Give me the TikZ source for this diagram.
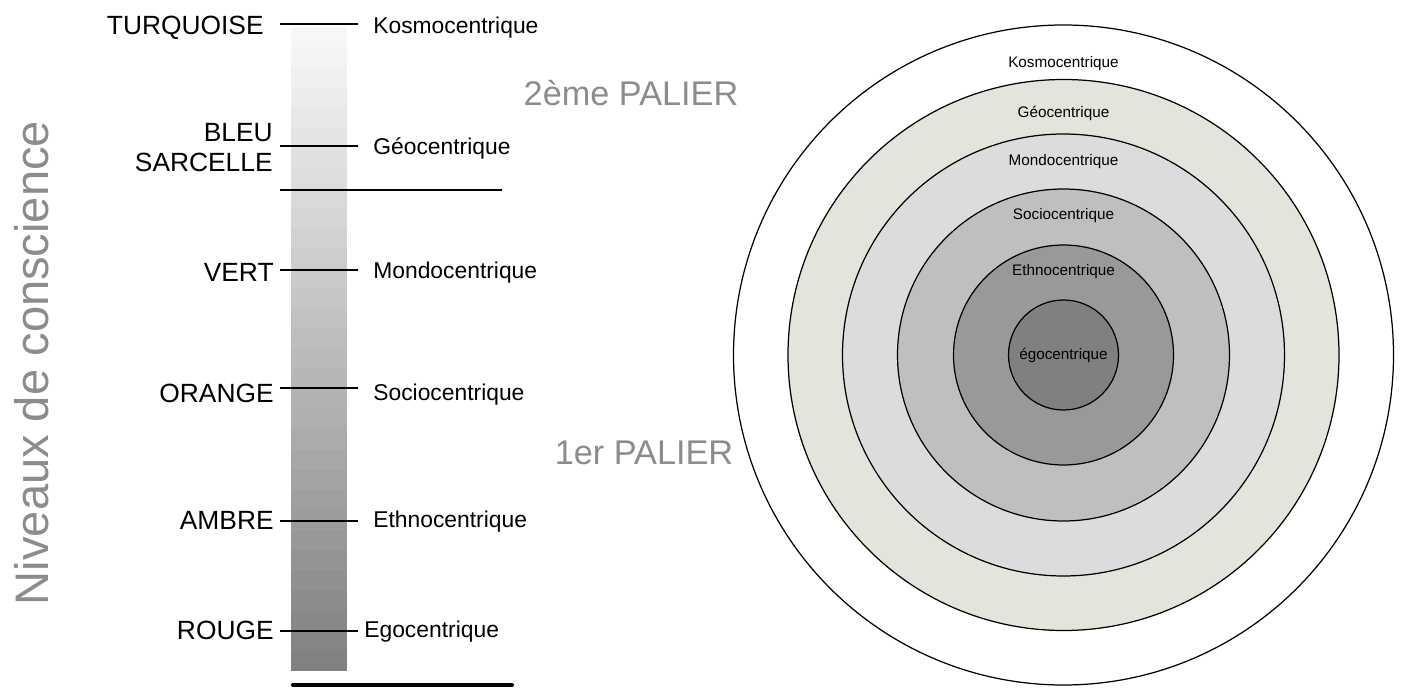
\documentclass[tikz,border=0pt]{standalone}
\usepackage{fontspec}
\setmainfont{Liberation Sans}
\definecolor{gristexte}{HTML}{8C8C8C}
\definecolor{geo}{HTML}{E4E4DC}
\definecolor{mondo}{HTML}{DCDCDC}
\definecolor{socio}{HTML}{BFBFBF}
\definecolor{ethno}{HTML}{999999}
\definecolor{ego}{HTML}{808080}
\begin{document}
\begin{tikzpicture}[
        font=\fontsize{13}{15}\selectfont,
        niveau/.style={anchor=east, inner sep=0pt, font=\fontsize{15}{17}\selectfont},
        centrique/.style={anchor=west, inner sep=0pt},
        palier/.style={gristexte, inner sep=0pt, font=\fontsize{19.5}{22}\selectfont},
        cercle/.style={draw=black, line width=0.7pt},
        petit/.style={inner sep=0pt, font=\fontsize{8.7}{10}\selectfont},
        trait/.style={line width=1.2pt}
    ]
        \useasboundingbox (0,0) rectangle (28.02,13.76);

        % Barre en degrade
        \foreach \i [evaluate=\i as \pc using 3+1.5*\i,
                     evaluate=\i as \yh using 13.22-0.4025*\i] in {0,...,31}
            \fill[black!\pc] (5.82,\yh) rectangle ++(1.12,-0.41);

        % Graduations
        \foreach \y in {13.28,10.84,8.36,6.0,3.34,1.14}
            \draw[trait] (5.6,\y) -- (7.16,\y);
        \draw[trait] (5.6,9.96) -- (10.04,9.96);
        \draw[line width=2.3pt, line cap=round] (5.86,0.06) -- (10.24,0.06);

        % Niveaux (couleurs)
        \node[niveau] (turquoise) at (5.28,13.2) {TURQUOISE};
        \node[niveau, align=right] (bleu) at (5.46,10.81) {BLEU\\SARCELLE};
        \node[niveau] (vert) at (5.48,8.32) {VERT};
        \node[niveau] (orange) at (5.48,5.9) {ORANGE};
        \node[niveau] (ambre) at (5.48,3.36) {AMBRE};
        \node[niveau] (rouge) at (5.48,1.16) {ROUGE};

        % Centrismes
        \node[centrique] (kosmo) at (7.46,13.2) {Kosmocentrique};
        \node[centrique] (geocentre) at (7.46,10.8) {Géocentrique};
        \node[centrique] (mondocentre) at (7.46,8.3) {Mondocentrique};
        \node[centrique] (sociocentre) at (7.46,5.86) {Sociocentrique};
        \node[centrique] (ethnocentre) at (7.46,3.32) {Ethnocentrique};
        \node[centrique] (egocentre) at (7.28,1.12) {Egocentrique};

        % Paliers
        \node[palier] (palier2) at (12.62,11.9) {2ème PALIER};
        \node[palier] (palier1) at (12.88,4.7) {1er PALIER};

        % Titre vertical
        \node[gristexte, rotate=90, inner sep=0pt, font=\fontsize{26.8}{30}\selectfont]
            (titre) at (0.64,6.5) {Niveaux de conscience};

        % Cercles concentriques
        \coordinate (centre) at (21.27,6.66);
        \foreach \r/\c in {6.6/white, 5.51/geo, 4.42/mondo, 3.32/socio, 2.2/ethno, 1.1/ego}
            \filldraw[cercle, fill=\c] (centre) circle (\r);

        \node[petit] (ckosmo) at (21.27,12.48) {Kosmocentrique};
        \node[petit] (cgeo) at (21.27,11.5) {Géocentrique};
        \node[petit] (cmondo) at (21.27,10.52) {Mondocentrique};
        \node[petit] (csocio) at (21.27,9.44) {Sociocentrique};
        \node[petit] (cethno) at (21.27,8.32) {Ethnocentrique};
        \node[petit] (cego) at (centre) {égocentrique};

    \end{tikzpicture}
\end{document}
